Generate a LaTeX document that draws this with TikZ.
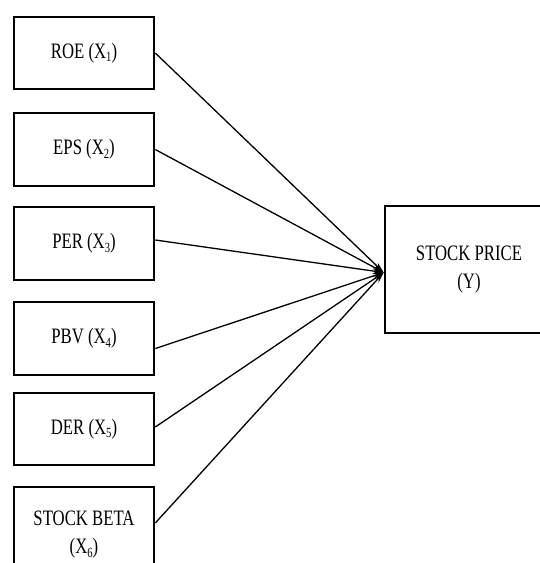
\documentclass[tikz,border=0pt]{standalone}
\usepackage{fontspec}
\setmainfont{Liberation Serif}[FakeStretch=0.76]
\usetikzlibrary{arrows.meta}
\newcommand{\xsub}[1]{\raisebox{-0.35ex}{\fontsize{14}{14}\selectfont #1}}
\begin{document}
\begin{tikzpicture}[x=1pt,y=-1pt,
  varbox/.style={draw=black,line width=2.6pt,fill=white,minimum width=140pt,align=center,
    font=\fontsize{22}{28}\selectfont,inner sep=0pt},
  link/.style={line width=1.3pt,-{Stealth[length=11pt,width=6pt]}}]
\clip (0,0) rectangle (540,563);
\useasboundingbox (0,0) rectangle (540,563);
\fill[white] (0,0) rectangle (540,563);
\node[varbox,minimum height=72pt] (b1) at (84,53) {ROE (X\xsub{1})};
\node[varbox,minimum height=73pt] (b2) at (84,149.5) {EPS (X\xsub{2})};
\node[varbox,minimum height=73pt] (b3) at (84,243.5) {PER (X\xsub{3})};
\node[varbox,minimum height=73pt] (b4) at (84,338.5) {PBV (X\xsub{4})};
\node[varbox,minimum height=72pt] (b5) at (84,429) {DER (X\xsub{5})};
\node[varbox,minimum height=96pt] (b6) at (84,535) {STOCK BETA\\(X\xsub{6})};
\node[varbox,minimum width=168pt,minimum height=127pt] (sp) at (469,269.5) {STOCK PRICE\\(Y)};
\coordinate (t) at ([yshift=-3pt]sp.west);
\draw[link] (b1.east) -- (t);
\draw[link] (b2.east) -- (t);
\draw[link] ([yshift=3.5pt]b3.east) -- (t);
\draw[link] ([yshift=-10pt]b4.east) -- (t);
\draw[link] ([yshift=2pt]b5.east) -- (t);
\draw[link] ([yshift=12pt]b6.east) -- (t);
\end{tikzpicture}
\end{document}
